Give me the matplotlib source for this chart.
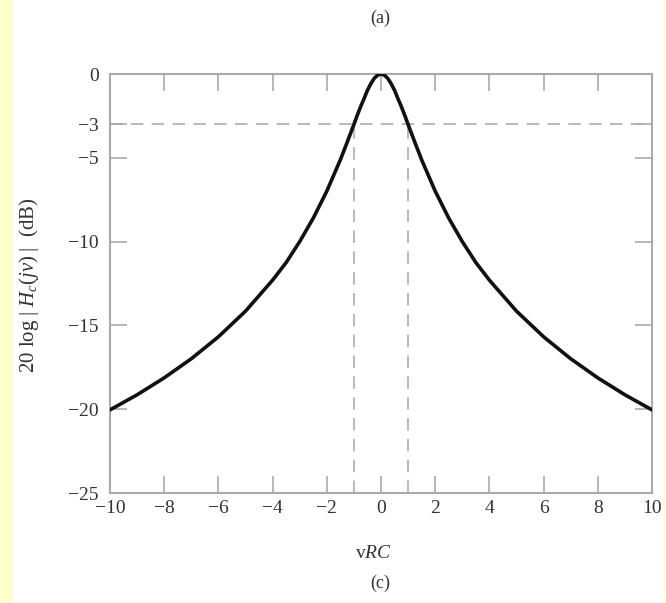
import matplotlib
matplotlib.use("Agg")
import matplotlib.pyplot as plt
from matplotlib.patches import Rectangle

plt.rcParams['font.family'] = ['Liberation Serif', 'DejaVu Serif']
plt.rcParams['mathtext.fontset'] = 'custom'
plt.rcParams['mathtext.rm'] = 'Liberation Serif'
plt.rcParams['mathtext.it'] = 'Liberation Serif:italic'

# Curve values (vRC, dB)
x_vals = [-10, -9, -8, -7, -6, -5, -4, -3.5, -3, -2.5, -2, -1.5, -1.25, -1,
          -0.875, -0.75, -0.625, -0.5, -0.375, -0.25, -0.125, 0,
          0.125, 0.25, 0.375, 0.5, 0.625, 0.75, 0.875, 1,
          1.25, 1.5, 2, 2.5, 3, 3.5, 4, 5, 6, 7, 8, 9, 10]
db_vals = [-20.04, -19.14, -18.13, -16.99, -15.68, -14.15, -12.30, -11.25, -10.0, -8.60, -6.99, -5.12, -4.08, -3.01,
           -2.46, -1.94, -1.47, -0.97, -0.58, -0.26, -0.07, 0.0,
           -0.07, -0.26, -0.58, -0.97, -1.47, -1.94, -2.46, -3.01,
           -4.08, -5.12, -6.99, -8.60, -10.0, -11.25, -12.30, -14.15, -15.68, -16.99, -18.13, -19.14, -20.04]

x_ticks = [-10, -8, -6, -4, -2, 0, 2, 4, 6, 8, 10]
y_ticks = [0, -3, -5, -10, -15, -20, -25]
y_ticklabels = ['0', '\u22123', '\u22125', '\u221210', '\u221215', '\u221220', '\u221225']
x_ticklabels = ['\u221210', '\u22128', '\u22126', '\u22124', '\u22122', '0', '2', '4', '6', '8', '10']
cutoff_db = -3
cutoff_x = [-1, 1]

fig = plt.figure(figsize=(6.66, 6.03), dpi=100)
fig.patch.set_facecolor('white')
fig.patches.append(Rectangle((0, 0), 13/666, 1, transform=fig.transFigure, facecolor='#FFFFCC', edgecolor='none', zorder=0))
fig.patches.append(Rectangle((664/666, 0), 2/666, 1, transform=fig.transFigure, facecolor='#FFFFCC', edgecolor='none', zorder=0))

ax = fig.add_axes([110/666, 1 - 493/603, (652 - 110)/666, (493 - 74)/603])

gray = '#aaaaaa'
txt = '#333333'

ax.plot([-10, 10], [cutoff_db, cutoff_db], linestyle=(0, (6, 4)), color='#bbbbbb', lw=1.5, zorder=1)
for cx in cutoff_x:
    ax.plot([cx, cx], [-25, cutoff_db], linestyle=(0, (6, 4)), color='#bbbbbb', lw=1.5, zorder=1)

ax.plot(x_vals, db_vals, color='#111111', lw=2.6, zorder=3,
        solid_capstyle='round', solid_joinstyle='round')

ax.set_xlim(-10, 10)
ax.set_ylim(-25, 0)
ax.set_xticks(x_ticks)
ax.set_xticklabels(x_ticklabels)
ax.set_yticks(y_ticks)
ax.set_yticklabels(y_ticklabels)
ax.tick_params(direction='in', length=12, width=1.2, color=gray, labelsize=14,
               labelcolor=txt, top=True, right=True)
ax.tick_params(axis='y', pad=8)
ax.tick_params(axis='x', pad=5)
for s in ax.spines.values():
    s.set_color(gray)
    s.set_linewidth(1.5)

fig.text(373/666, 1 - 554/603, r'v$\mathit{RC}$', ha='center', va='center', fontsize=14, color=txt)
fig.text(29/666, 1 - 285/603, r'20 log $|\;\mathit{H}_{c}(\mathit{jv})\;|$  (dB)',
         ha='center', va='center', rotation=90, fontsize=15, color=txt)

fig.text(380/666, 1 - 18/603, '(a)', ha='center', va='center', fontsize=13, color=txt)
fig.text(380/666, 1 - 583/603, '(c)', ha='center', va='center', fontsize=13, color=txt)

fig.savefig('out.png', dpi=100)
